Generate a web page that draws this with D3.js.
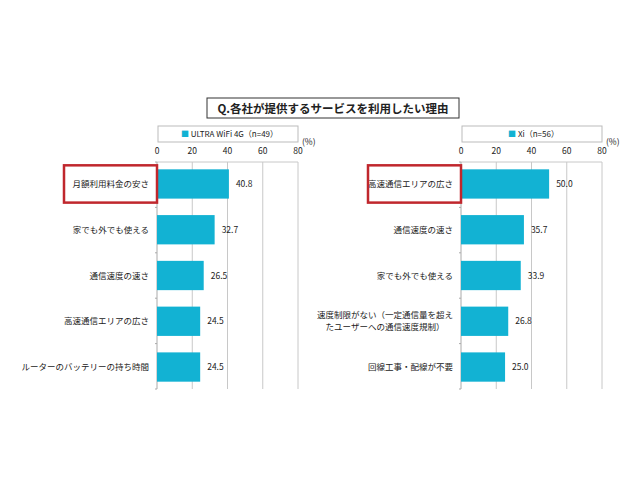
<!DOCTYPE html>
<html>
<head>
<meta charset="utf-8">
<script src="https://cdn.jsdelivr.net/npm/d3@7"></script>
<style>
body { margin: 0; background: #fff; }
text { font-family: "Noto Sans CJK JP", "Noto Sans", sans-serif; fill: #222; }
</style>
</head>
<body>
<div id="graf"></div>
<script>
// Datos
const titulo = "Q.各社が提供するサービスを利用したい理由"
const ticks = [0, 20, 40, 60, 80]

const izqSerie = "ULTRA WiFi 4G（n=49）"
const izqCategorias = ["月額利用料金の安さ", "家でも外でも使える", "通信速度の速さ", "高速通信エリアの広さ", "ルーターのバッテリーの持ち時間"]
const izqValores = [40.8, 32.7, 26.5, 24.5, 24.5]

const derSerie = "Xi（n=56）"
const derCategorias = ["高速通信エリアの広さ", "通信速度の速さ", "家でも外でも使える", "速度制限がない（一定通信量を超え\nたユーザーへの通信速度規制）", "回線工事・配線が不要"]
const derValores = [50.0, 35.7, 33.9, 26.8, 25.0]

const colorBarra = "#12b2d3"
const colorRojo = "#c0272d"

const svg = d3.select("#graf").append("svg")
    .attr("width", 640)
    .attr("height", 480)

// Titulo
svg.append("rect")
    .attr("x", 207).attr("y", 98)
    .attr("width", 252).attr("height", 20)
    .attr("fill", "#fff").attr("stroke", "#333").attr("stroke-width", 1)
svg.append("text")
    .attr("x", 333).attr("y", 112.5)
    .attr("text-anchor", "middle")
    .style("font-size", "11.5px")
    .style("font-weight", "bold")
    .text(titulo)

const drawPanel = (x0, serie, categorias, valores) => {
    const ancho = 141
    const top = 162
    const alto = 227

    const g = svg.append("g").attr("transform", `translate(${x0}, ${top})`)

    const x = d3.scaleLinear().domain([0, 80]).range([0, ancho])
    const y = d3.scaleBand().domain(categorias).range([0, alto])
        .paddingInner(0.36).paddingOuter(0.16)

    // leyenda
    g.append("rect")
        .attr("x", 1).attr("y", -36)
        .attr("width", ancho - 1).attr("height", 16)
        .attr("fill", "#fff").attr("stroke", "#bbb")
    const leg = g.append("text")
        .attr("x", ancho / 2 + 2).attr("y", -25)
        .attr("text-anchor", "middle")
        .style("font-size", "8px")
    leg.append("tspan").style("fill", colorBarra).text("■ ")
    leg.append("tspan").text(serie)

    // grilla
    g.selectAll(".grid").data(ticks.slice(1)).enter()
        .append("line")
        .attr("x1", d => x(d)).attr("x2", d => x(d))
        .attr("y1", 0).attr("y2", alto)
        .attr("stroke", "#c8c8c8").attr("stroke-width", 1)
    g.append("line")
        .attr("x1", 0).attr("x2", ancho)
        .attr("y1", 0).attr("y2", 0)
        .attr("stroke", "#c8c8c8")

    // eje x arriba
    g.selectAll(".tick").data(ticks).enter()
        .append("text")
        .attr("x", d => x(d)).attr("y", -8)
        .attr("text-anchor", "middle")
        .style("font-size", "8.5px")
        .text(d => d)
    g.append("text")
        .attr("x", ancho + 4).attr("y", -17)
        .style("font-size", "8.5px")
        .text("(%)")

    // eje y
    g.append("line")
        .attr("x1", 0).attr("x2", 0)
        .attr("y1", 0).attr("y2", alto)
        .attr("stroke", "#aaa")
    const paso = y.step()
    g.selectAll(".ytick").data(d3.range(categorias.length + 1)).enter()
        .append("line")
        .attr("x1", -2).attr("x2", 0)
        .attr("y1", d => d * alto / categorias.length)
        .attr("y2", d => d * alto / categorias.length)
        .attr("stroke", "#aaa")

    // barras
    g.selectAll(".barra").data(valores).enter()
        .append("rect")
        .attr("x", 0)
        .attr("y", (d, i) => y(categorias[i]))
        .attr("width", d => x(d))
        .attr("height", y.bandwidth())
        .attr("fill", colorBarra)

    // valores
    g.selectAll(".valor").data(valores).enter()
        .append("text")
        .attr("x", d => x(d) + 7)
        .attr("y", (d, i) => y(categorias[i]) + y.bandwidth() / 2 + 3)
        .style("font-size", "8.5px")
        .text(d => d.toFixed(1))

    // etiquetas
    categorias.forEach((c, i) => {
        const lineas = c.split("\n")
        const cy = y(c) + y.bandwidth() / 2
        if (lineas.length === 1) {
            g.append("text")
                .attr("x", -8).attr("y", cy + 3)
                .attr("text-anchor", "end")
                .style("font-size", "8.5px")
                .text(c)
        } else {
            const t = g.append("text")
                .attr("text-anchor", "middle")
                .style("font-size", "8.5px")
            lineas.forEach((l, j) => {
                t.append("tspan")
                    .attr("x", -76)
                    .attr("y", cy - 3 + j * 12)
                    .text(l)
            })
        }
    })

    // resaltado de la primera categoria
    g.append("rect")
        .attr("x", -93).attr("y", y(categorias[0]) - 4)
        .attr("width", 93).attr("height", y.bandwidth() + 8)
        .attr("fill", "none")
        .attr("stroke", colorRojo).attr("stroke-width", 2.5)
}

drawPanel(157, izqSerie, izqCategorias, izqValores)
drawPanel(461, derSerie, derCategorias, derValores)
</script>
</body>
</html>
